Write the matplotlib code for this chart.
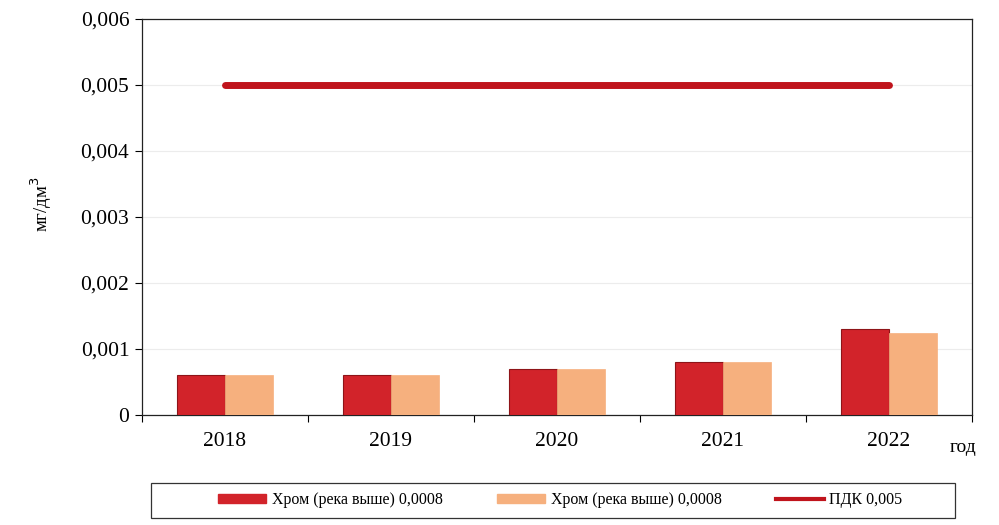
import matplotlib

matplotlib.use("Agg")
import matplotlib.pyplot as plt
import numpy as np
from matplotlib.lines import Line2D
from matplotlib.patches import Patch, Rectangle
from matplotlib.ticker import FuncFormatter, FixedLocator

plt.rcParams["font.family"] = ["Liberation Serif", "DejaVu Serif"]

years = ["2018", "2019", "2020", "2021", "2022"]
chrom_upstream_a = [0.0006, 0.0006, 0.0007, 0.0008, 0.0013]
chrom_upstream_b = [0.0006, 0.0006, 0.00069, 0.0008, 0.00125]
pdk_value = 0.005

label_a = "Хром (река выше) 0,0008"
label_b = "Хром (река выше) 0,0008"
label_pdk = "ПДК 0,005"

RED = "#d2232a"
PEACH = "#f6b07e"
PDK_RED = "#c0141c"

fig = plt.figure(figsize=(9.99, 5.25), dpi=100)
ax = fig.add_axes([0.142, 0.2095, 0.831, 0.7543])

x = np.arange(len(years))
width = 0.29
ax.bar(x - width / 2, chrom_upstream_a, width, color=RED, edgecolor="#8e1418",
       linewidth=0.8, zorder=3)
ax.bar(x + width / 2, chrom_upstream_b, width, color=PEACH, edgecolor=PEACH,
       linewidth=0.5, zorder=3)
ax.plot([x[0], x[-1]], [pdk_value, pdk_value], color=PDK_RED, linewidth=5,
        solid_capstyle="round", zorder=4)

ax.set_xlim(-0.5, len(years) - 0.5)
ax.set_ylim(0, 0.006)
ax.set_yticks(np.arange(0, 0.0061, 0.001))
ax.yaxis.set_major_formatter(
    FuncFormatter(lambda v, _: "0" if abs(v) < 1e-12 else f"{v:.3f}".replace(".", ","))
)
ax.grid(axis="y", color="#ececec", linewidth=0.8, zorder=0)

ax.set_xticks(x)
ax.set_xticklabels(years)
ax.xaxis.set_minor_locator(FixedLocator(np.arange(-0.5, len(years), 1.0)))
ax.tick_params(axis="x", which="major", length=0, pad=12, labelsize=15.5)
ax.tick_params(axis="x", which="minor", length=5, width=0.8, direction="out")
ax.tick_params(axis="y", length=5, width=0.8, direction="out", labelsize=15.5, pad=4)

for side in ["left", "bottom", "top", "right"]:
    ax.spines[side].set_linewidth(0.9)
    ax.spines[side].set_color("#222222")

fig.text(0.041, 0.612, "мг/дм$^3$", fontsize=13.5, rotation=90,
         ha="center", va="center")
fig.text(0.951, 0.148, "год", fontsize=14, ha="left", va="center")

# legend frame drawn separately so it can be wider than its contents
fig.add_artist(Rectangle((0.151, 0.013), 0.805, 0.067, transform=fig.transFigure,
                         facecolor="white", edgecolor="#333333", linewidth=0.9))
handles = [
    Patch(facecolor=RED, edgecolor=RED),
    Patch(facecolor=PEACH, edgecolor=PEACH),
    Line2D([0], [0], color=PDK_RED, linewidth=3),
]
fig.legend(handles, [label_a, label_b, label_pdk], ncol=3,
           loc="center", bbox_to_anchor=(0.561, 0.0467),
           frameon=False, fontsize=11.5,
           handlelength=3.0, handleheight=0.5, columnspacing=3.4,
           borderpad=0.3, handletextpad=0.35)

fig.savefig("out.png", dpi=100)
